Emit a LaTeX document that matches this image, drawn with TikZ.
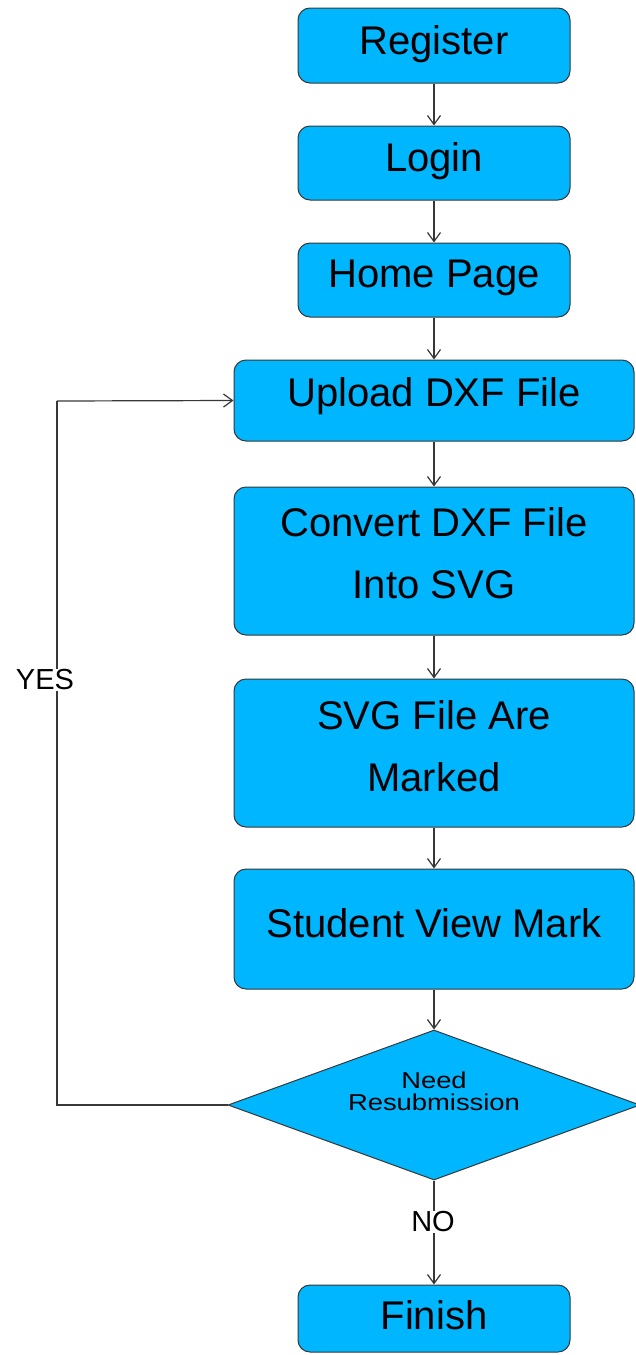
\documentclass[tikz,border=0pt]{standalone}
\usepackage{fontspec}
\setmainfont{Liberation Sans}
\newfontfamily\widefont[FakeStretch=1.19]{Liberation Sans}
\usetikzlibrary{shapes.geometric,arrows.meta}
\definecolor{boxblue}{RGB}{0,182,255}
\definecolor{edgegray}{RGB}{55,55,55}
\tikzset{
  stepbox/.style={draw=edgegray,line width=1pt,fill=boxblue,rounded corners=12pt,
    minimum width=#1,align=center,inner sep=0pt,
    font=\fontsize{40}{62}\selectfont},
  conn/.style={draw=edgegray,line width=1.2pt,-{Straight Barb[length=9pt,width=13pt,line width=1.2pt]}},
  plain/.style={draw=edgegray,line width=1.2pt},
  lbl/.style={fill=white,inner sep=1pt,font=\fontsize{29}{32}\selectfont}
}
\begin{document}
\begin{tikzpicture}[x=1pt,y=-1pt]
\useasboundingbox (0,0) rectangle (635,1355);
\node[stepbox=272pt,minimum height=75pt,text depth=11pt] (reg) at (434,45.5) {Register};
\node[stepbox=272pt,minimum height=74pt,text depth=12pt] (login) at (434,163) {Login};
\node[stepbox=272pt,minimum height=74pt,text depth=13pt] (home) at (434,280) {Home Page};
\node[stepbox=400pt,minimum height=81pt,text depth=17pt] (upload) at (434,400.5) {Upload DXF File};
\node[stepbox=400pt,minimum height=148pt,text depth=15.5pt] (convert) at (434,561) {Convert DXF File\\Into SVG};
\node[stepbox=400pt,minimum height=148pt,text depth=14.6pt] (marked) at (434,753) {SVG File Are\\Marked};
\node[stepbox=400pt,minimum height=120pt,text depth=12pt] (view) at (434,929) {Student View Mark};
\node[diamond,draw=edgegray,line width=1pt,fill=boxblue,inner sep=0pt,aspect=2.75,
  minimum width=412pt,minimum height=150pt] (dec) at (434,1105) {};
\node[align=center,inner sep=0pt,font=\widefont\fontsize{23}{22}\selectfont] (dtext) at (434,1091) {Need\\Resubmission};
\node[stepbox=272pt,minimum height=67pt,text depth=7pt] (finish) at (434,1318.5) {Finish};
\coordinate (c1) at (57,1105);
\coordinate (c2) at (57,401);
\draw[conn] (reg) -- (login);
\draw[conn] (login) -- (home);
\draw[conn] (home) -- (upload);
\draw[conn] (upload) -- (convert);
\draw[conn] (convert) -- (marked);
\draw[conn] (marked) -- (view);
\draw[conn] (view) -- (dec.north);
\draw[plain] (dec.west) -- (c1) -- (c2);
\draw[conn] (c2) -- (upload.west);
\draw[conn] (dec.south) -- (finish.north);
\node[lbl] (yes) at (45,680) {YES};
\node[lbl] (no) at (433,1222) {NO};
\end{tikzpicture}
\end{document}
